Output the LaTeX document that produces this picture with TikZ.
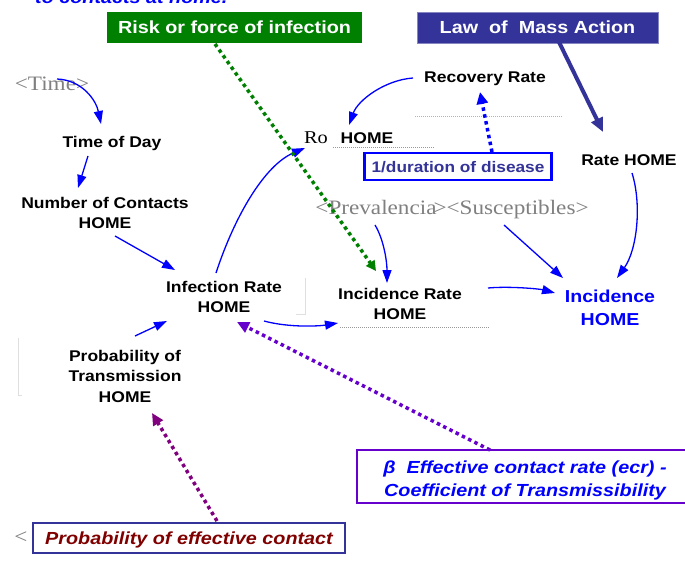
\documentclass[tikz,border=0pt]{standalone}
\usepackage{fontspec}
\newfontfamily\arial[FakeStretch=1.13]{Liberation Sans}
\newfontfamily\timesf[FakeStretch=1.13]{Liberation Serif}
\usetikzlibrary{arrows.meta,calc}
\definecolor{grn}{RGB}{0,128,0}
\definecolor{navyb}{RGB}{51,51,153}
\definecolor{bl}{RGB}{0,0,255}
\definecolor{purp}{RGB}{128,0,128}
\definecolor{viol}{RGB}{102,0,204}
\definecolor{dred}{RGB}{128,0,0}
\definecolor{gtxt}{RGB}{128,128,128}
\begin{document}
\begin{tikzpicture}[x=1pt,y=-1pt,
  lbl/.style={font=\arial\bfseries\fontsize{15.5}{20.5}\selectfont,align=center,inner sep=0pt},
  gry/.style={font=\timesf\fontsize{20.5}{24}\selectfont,text=gtxt,inner sep=0pt},
  conn/.style={draw=bl,line width=1.3pt,-{Triangle[length=13pt,width=9pt]}},
  dotl/.style={line width=3.5pt,dash pattern=on 3.5pt off 3.5pt},
  uline/.style={draw=gray!80,line width=0.6pt,dash pattern=on 1pt off 1pt},
  faint/.style={draw=gray!25,line width=0.5pt},
  bigbi/.style={font=\arial\bfseries\itshape\fontsize{17.5}{23}\selectfont}
]
\useasboundingbox (0,0) rectangle (685,562);
\clip (0,0) rectangle (685,562);
\fill[white] (0,0) rectangle (685,562);

% title (clipped at the top edge, as in the reference)
\node[anchor=base west,bigbi,text=bl,inner sep=0pt] (title) at (35,4) {to contacts at home.};

% header boxes
\node[fill=grn,minimum width=255pt,minimum height=31pt,inner sep=0pt,text=white,text depth=0pt,
      font=\arial\bfseries\fontsize{17.5}{20}\selectfont] (risk) at (234.5,27.5) {Risk or force of infection};
\node[fill=navyb,draw=navyb!60!white,line width=0.6pt,minimum width=241pt,minimum height=31pt,inner sep=0pt,text=white,text depth=0pt,
      font=\arial\bfseries\fontsize{17.5}{20}\selectfont] (law) at (537.5,27.5) {Law\ \ of\ \ Mass Action};

% variables
\node[gry] (time) at (52,84) {<Time>};
\node[lbl] (tod) at (112,143) {Time of Day};
\node[lbl] (noc) at (105,213) {Number of Contacts\\HOME};
\node[lbl] (inf) at (224,297) {Infection Rate\\HOME};
\node[lbl] (pot) at (125,376) {Probability of\\Transmission\\HOME};
\node[font=\timesf\fontsize{18}{20}\selectfont,inner sep=0pt] (ro) at (316,138) {Ro};
\node[lbl] (roh) at (367,138) {HOME};
\node[lbl] (rec) at (485,79) {Recovery Rate};
\node[draw=bl,line width=2.5pt,minimum width=187pt,minimum height=27pt,inner sep=0pt,text=navyb,text depth=0pt,
      font=\arial\bfseries\fontsize{15.3}{18}\selectfont] (dur) at (458,166.5) {1/duration of disease};
\node[lbl] (rate) at (629,160) {Rate HOME};
\node[gry] (prev) at (452,210) {<Prevalencia\kern-3pt><Susceptibles>};
\node[lbl] (incr) at (400,304) {Incidence Rate\\HOME};
\node[font=\arial\bfseries\fontsize{17.3}{23}\selectfont,align=center,inner sep=0pt,text=bl] (inc) at (610,308) {Incidence\\HOME};

% lower boxes
\node[draw=viol,line width=2.5pt,minimum width=340pt,minimum height=53pt,inner sep=0pt] (ecr) at (527,476.5) {};
\node[bigbi,text=bl,align=center,inner sep=0pt] (ecrt) at (525,480)
  {β\ \ Effective contact rate (ecr) -\\Coefficient of Transmissibility};
\node[draw=navyb,line width=2pt,bigbi,text=dred,text depth=0pt,minimum width=312pt,minimum height=30pt,inner sep=0pt] (pec) at (189,538)
  {Probability of effective contact};
\node[gry] (lt) at (21,538) {<};

% underlines and faint marks
\draw[uline] ($(roh)+(-34,9)$) -- ($(roh)+(68,9)$);
\draw[uline,draw=gray!60] ($(rec)+(-70,37)$) -- ($(rec)+(78,37)$);
\draw[uline] ($(incr)+(-60,23)$) -- ($(incr)+(90,23)$);
\draw[faint] ($(inf)+(81,-19)$) -- ($(inf)+(81,17)$) -- ($(inf)+(72,17)$);
\draw[faint] ($(pot)+(-107,-38)$) -- ($(pot)+(-107,19)$) -- ($(pot)+(-103,19)$);

% blue connectors
\draw[conn] ($(time)+(5,-5)$) .. controls (82,80) and (96,100) .. ($(tod)+(-11,-19)$);
\draw[conn] ($(tod)+(-24,13)$) -- ($(noc)+(-27,-25)$);
\draw[conn] ($(noc)+(10,23)$) -- ($(inf)+(-49,-27)$);
\draw[conn] ($(pot)+(10,-40)$) -- ($(inf)+(-57,24)$);
\draw[conn] ($(inf)+(-8,-24)$) .. controls (235,215) and (265,165) .. ($(ro)+(-11,10)$);
\draw[conn] ($(rec)+(-72,-1)$) .. controls (385,80) and (358,100) .. ($(ro)+(33,-13)$);
\draw[conn] ($(rate)+(3,13)$) .. controls (642,205) and (637,250) .. ($(inc)+(7,-30)$);
\draw[conn] ($(prev)+(-77,15)$) .. controls (384,240) and (387,262) .. ($(incr)+(-13,-21)$);
\draw[conn] ($(prev)+(52,15)$) -- ($(inc)+(-47,-30)$);
\draw[conn] ($(inf)+(40,24)$) .. controls (290,328) and (320,326) .. ($(incr)+(-62,19)$);
\draw[conn] ($(incr)+(88,-16)$) .. controls (510,286) and (540,289) .. ($(inc)+(-55,-15)$);

% navy arrow
\draw[draw=navyb,line width=4pt,-{Triangle[length=14pt,width=12pt]}] ($(law)+(20.5,12.5)$) -- ($(rate)+(-26,-28)$);

% dotted arrows
\draw[dotl,draw=grn,-{Triangle[length=10pt,width=10pt]}] ($(risk)+(-19.5,16.5)$) -- ($(incr)+(-24,-33)$);
\draw[dotl,draw=bl,-{Triangle[length=12pt,width=11pt]}] ($(dur)+(34,-14.5)$) -- ($(rec)+(-5,13)$);
\draw[dotl,draw=viol,-{Triangle[length=12pt,width=11pt]}] ($(ecr)+(-37,-26.5)$) -- ($(inf)+(13,25)$);
\draw[dotl,draw=purp,-{Triangle[length=12pt,width=11pt]}] ($(pec)+(28,-17)$) -- ($(pot)+(27,37)$);
\end{tikzpicture}
\end{document}
